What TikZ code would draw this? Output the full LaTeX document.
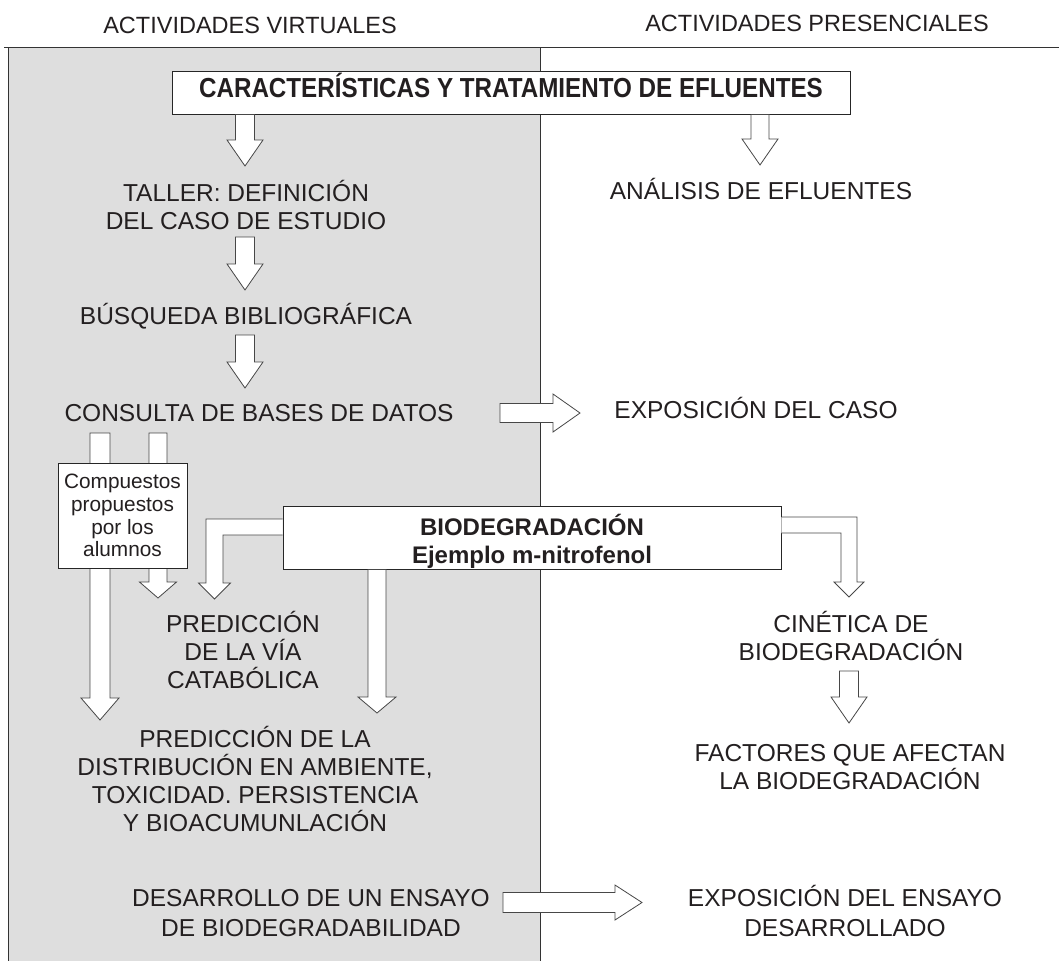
\documentclass[tikz,border=0pt]{standalone}
\usepackage{fontspec}
\setmainfont{Liberation Sans}
\usepackage{graphicx}
\usetikzlibrary{calc}
\definecolor{panel}{HTML}{DEDEDE}
\definecolor{ink}{HTML}{231F20}
\tikzset{
  body/.style={font=\fontsize{24.5}{28}\selectfont, inner sep=0pt, align=center, text=ink},
  bodywide/.style={font=\fontsize{24.5}{30}\selectfont, inner sep=0pt, align=center, text=ink},
  headtxt/.style={font=\fontsize{23.5}{28}\selectfont, inner sep=0pt, text=ink},
  blockarrow/.style={draw=black!72, fill=white, line width=0.8pt, line join=miter},
  frameline/.style={draw=black!80, line width=0.9pt},
  boxed/.style={draw=black!85, fill=white, line width=0.9pt, inner sep=0pt, text=ink},
}
\newcommand{\tl}[1]{\rule{0pt}{#1pt}}
% vertical block arrow: start, tip, head length, shaft half width, head half width
\newcommand{\dblock}[5]{%
  \draw[blockarrow] let \p1=(#1), \p2=(#2) in
  (\x2-#4pt,\y1) -- (\x2-#4pt,\y2+#3pt) -- (\x2-#5pt,\y2+#3pt) -- (\x2,\y2)
  -- (\x2+#5pt,\y2+#3pt) -- (\x2+#4pt,\y2+#3pt) -- (\x2+#4pt,\y1) -- cycle;}
% horizontal block arrow to the right
\newcommand{\rblock}[5]{%
  \draw[blockarrow] let \p1=(#1), \p2=(#2) in
  (\x1,\y2+#4pt) -- (\x2-#3pt,\y2+#4pt) -- (\x2-#3pt,\y2+#5pt) -- (\x2,\y2)
  -- (\x2-#3pt,\y2-#5pt) -- (\x2-#3pt,\y2-#4pt) -- (\x1,\y2-#4pt) -- cycle;}
\begin{document}
\begin{tikzpicture}[x=1pt,y=-1pt]
\useasboundingbox (0,0) rectangle (1059,961);
% panel
\fill[panel] (8,47) rectangle (540,961);
\draw[frameline] (4,47) -- (1059,47);
\draw[frameline] (8,47) -- (8,961);
\draw[frameline] (540,47) -- (540,961);

% headers
\node[headtxt, anchor=base] (hv) at (250,33.4) {ACTIVIDADES VIRTUALES};
\node[headtxt, anchor=base] (hp) at (817,31) {ACTIVIDADES PRESENCIALES};

% top box
\node[boxed, minimum width=678pt, minimum height=43pt, text height=14pt, text depth=5pt] (top) at (511,92.5)
  {\scalebox{0.88}[1]{\fontsize{27.5}{30}\selectfont\bfseries CARACTERÍSTICAS Y TRATAMIENTO DE EFLUENTES}};

% left column texts
\node[body, anchor=north] (taller) at (246,176.8) {\tl{24}TALLER: DEFINICIÓN\\DEL CASO DE ESTUDIO};
\node[body, anchor=base] (busq) at (246,324.8) {BÚSQUEDA BIBLIOGRÁFICA};
\node[body, anchor=base] (consulta) at (259,421) {CONSULTA DE BASES DE DATOS};
\node[body, anchor=north] (prediv) at (243,607.8) {\tl{24}PREDICCIÓN\\DE LA VÍA\\CATABÓLICA};
\node[body, anchor=north] (predist) at (255,722.8) {\tl{24}PREDICCIÓN DE LA\\DISTRIBUCIÓN EN AMBIENTE,\\TOXICIDAD. PERSISTENCIA\\Y BIOACUMUNLACIÓN};
\node[bodywide, anchor=north] (desarr) at (311,881.8) {\tl{24}DESARROLLO DE UN ENSAYO\\DE BIODEGRADABILIDAD};

% right column texts
\node[body, anchor=base] (analisis) at (761,199.8) {ANÁLISIS DE EFLUENTES};
\node[body, anchor=base] (expcaso) at (756,418.8) {EXPOSICIÓN DEL CASO};
\node[body, anchor=north] (cinet) at (851,607.8) {\tl{24}CINÉTICA DE\\BIODEGRADACIÓN};
\node[body, anchor=north] (factores) at (850,736.8) {\tl{24}FACTORES QUE AFECTAN\\LA BIODEGRADACIÓN};
\node[bodywide, anchor=north] (expens) at (845,881.8) {\tl{24}EXPOSICIÓN DEL ENSAYO\\DESARROLLADO};

% arrow tip coordinates
\coordinate (a1t) at (245,166);
\coordinate (a2t) at (760,165);
\coordinate (a3s) at (245,237);
\coordinate (a3t) at (245,290);
\coordinate (a4s) at (245,335);
\coordinate (a4t) at (245,388);
\coordinate (a5s) at (500,413);
\coordinate (a5t) at (580,413);
\coordinate (s1s) at (100,433);
\coordinate (s1t) at (100,720);
\coordinate (s2s) at (158,433);
\coordinate (s2t) at (158,598);
\coordinate (mt) at (377,713);
\coordinate (blt) at (214.5,599);
\coordinate (brt) at (849,597);
\coordinate (a6s) at (849,671);
\coordinate (a6t) at (849,723);
\coordinate (a7s) at (503,902.5);
\coordinate (a7t) at (642,902.5);

% arrows
\dblock{top.south -| a1t}{a1t}{26}{9.5}{18}
\dblock{top.south -| a2t}{a2t}{26}{9}{18}
\dblock{a3s}{a3t}{26}{9.5}{18}
\dblock{a4s}{a4t}{26}{9.5}{18}
\rblock{a5s}{a5t}{27}{9.5}{19}
\dblock{s1s}{s1t}{22}{10}{19}
\dblock{s2s}{s2t}{16}{9}{18.5}
\dblock{a6s}{a6t}{26}{9.5}{18}
\rblock{a7s}{a7t}{27}{10}{17.5}

% compuestos box
\node[boxed, minimum width=129pt, minimum height=105pt, align=center,
      font=\fontsize{20.8}{22.7}\selectfont] (comp) at (122.5,515.5)
  {\tl{15}Compuestos\\propuestos\\por los\\alumnos};

% biodegradacion box
\node[boxed, minimum width=498pt, minimum height=62pt, align=center,
      font=\fontsize{24}{27.5}\selectfont\bfseries] (bio) at (532,538)
  {\tl{28.7}BIODEGRADACIÓN\\Ejemplo m-nitrofenol\rule[-6pt]{0pt}{6pt}};

% arrows from biodegradacion
\dblock{bio.south -| mt}{mt}{16}{9}{19}
\draw[blockarrow] (bio.west |- 0,519) -- (206,519) -- (206,583) -- (198.5,583) -- (blt)
  -- (230.5,583) -- (223,583) -- (223,535) -- (bio.west |- 0,535);
\draw[blockarrow] (bio.east |- 0,517) -- (857,517) -- (857,582) -- (864,582) -- (brt)
  -- (834,582) -- (841,582) -- (841,533) -- (bio.east |- 0,533);
\end{tikzpicture}
\end{document}
